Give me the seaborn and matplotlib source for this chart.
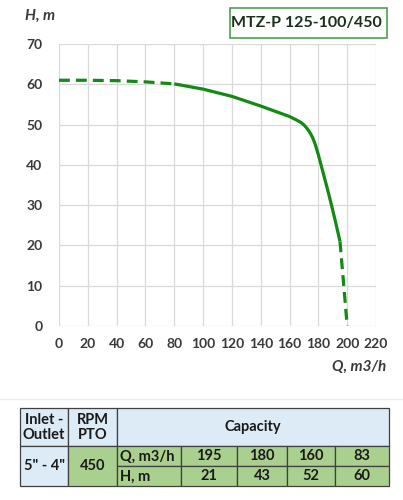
import numpy as np
import pandas as pd
import matplotlib.pyplot as plt
import seaborn as sns
from matplotlib.patches import Rectangle

# ==========================================
# Data
# ==========================================
title = "MTZ-P 125-100/450"

# Pump curve H(Q): dashed start, solid working range, dashed end
q_start = [0, 20, 40, 60, 80]
h_start = [61.0, 61.0, 60.9, 60.6, 60.1]
q_main = [80, 100, 120, 140, 150, 160, 165, 168, 170, 172, 174, 176, 178,
          180, 182, 184, 186, 188, 190, 192, 194, 195]
h_main = [60.1, 58.8, 57.0, 54.6, 53.3, 52.0, 51.1, 50.5, 49.9, 49.1, 48.1,
          46.8, 44.9, 42.5, 39.8, 37.1, 34.4, 31.6, 28.7, 25.7, 22.6, 21.0]
q_end = [195, 197.3, 200]
h_end = [21.0, 11.4, 0.0]

x_ticks = list(range(0, 221, 20))
y_ticks = list(range(0, 71, 10))

# Table contents
inlet_outlet = '5" - 4"'
rpm_pto = "450"
cap_q = [195, 180, 160, 83]
cap_h = [21, 43, 52, 60]

# ==========================================
# Styling
# ==========================================
sns.set_theme(style="whitegrid")
plt.rcParams['font.family'] = ['Lato', 'DejaVu Sans']

W, H = 403, 500
fig = plt.figure(figsize=(W / 100, H / 100), dpi=100)

green = '#138a13'
text_col = '#3a3a3a'

# main plot axes (pixel box: x 59..376, y 44..326)
ax = fig.add_axes([59 / W, 1 - 326 / H, 317 / W, 282 / H])

seg_df = pd.DataFrame({'Q': q_main, 'H': h_main})
sns.lineplot(data=seg_df, x='Q', y='H', ax=ax, color=green, lw=2.3, sort=False,
             solid_capstyle='butt', solid_joinstyle='round')
for qs, hs in [(q_start, h_start), (q_end, h_end)]:
    d = pd.DataFrame({'Q': qs, 'H': hs})
    sns.lineplot(data=d, x='Q', y='H', ax=ax, color=green, lw=2.3, sort=False,
                 dashes=False, linestyle=(0, (3.4, 1.9)), dash_capstyle='butt')

ax.set_xlim(0, 220)
ax.set_ylim(0, 70)
ax.set_xticks(x_ticks)
ax.set_yticks(y_ticks)
ax.set_xlabel('')
ax.set_ylabel('')
ax.grid(True, color='#d9d9d9', lw=0.9)
for s in ax.spines.values():
    s.set_visible(False)
ax.tick_params(axis='both', length=0, labelsize=10, colors=text_col, pad=9)
for lab in ax.get_xticklabels() + ax.get_yticklabels():
    lab.set_fontweight('bold')
ax.tick_params(axis='y', pad=12)

# axis titles
fig.text(25 / W, 1 - 16 / H, 'H, m', ha='left', va='center', fontsize=11,
         fontweight='bold', fontstyle='italic', color=text_col)
fig.text(386 / W, 1 - 367 / H, 'Q, m3/h', ha='right', va='center', fontsize=11,
         fontweight='bold', fontstyle='italic', color=text_col)

# title box
fig.patches.append(Rectangle((230 / W, 1 - 38 / H), 157 / W, 30 / H,
                             transform=fig.transFigure, fill=False,
                             edgecolor='#4f9e4f', lw=1.2))
fig.text(306 / W, 1 - 23 / H, title, ha='center', va='center', fontsize=11.5,
         fontweight='bold', color='#1c2e1c')

# ==========================================
# Table (drawn in pixel coordinates)
# ==========================================
tax = fig.add_axes([0, 0, 1, 1])
tax.set_xlim(0, W)
tax.set_ylim(H, 0)
tax.axis('off')

blue = '#ddebf7'
lgreen = '#a9d08e'
edge = '#404040'

tax.plot([0, W], [399, 399], color='#ececec', lw=1)

cols = [20, 68, 117, 181, 237, 287, 335, 389]
rows = [408, 446, 466, 486]


def cell(x0, x1, y0, y1, color, text='', ha='center'):
    tax.add_patch(Rectangle((x0, y0), x1 - x0, y1 - y0, facecolor=color,
                            edgecolor=edge, lw=0.9))
    if text:
        tx = (x0 + x1) / 2 if ha == 'center' else x0 + 3
        tax.text(tx, (y0 + y1) / 2 + 0.5, text, ha=ha, va='center',
                 fontsize=10.5, fontweight='bold', color='#1a1a1a',
                 linespacing=1.15)


cell(cols[0], cols[1], rows[0], rows[1], blue, 'Inlet -\nOutlet')
cell(cols[1], cols[2], rows[0], rows[1], blue, 'RPM\nPTO')
cell(cols[2], cols[7], rows[0], rows[1], blue, 'Capacity')
cell(cols[0], cols[1], rows[1], rows[3], blue, inlet_outlet)
cell(cols[1], cols[2], rows[1], rows[3], lgreen, rpm_pto)
cell(cols[2], cols[3], rows[1], rows[2], lgreen, 'Q, m3/h', ha='left')
cell(cols[2], cols[3], rows[2], rows[3], lgreen, 'H, m', ha='left')
for i, (qv, hv) in enumerate(zip(cap_q, cap_h)):
    cell(cols[3 + i], cols[4 + i], rows[1], rows[2], lgreen, str(qv))
    cell(cols[3 + i], cols[4 + i], rows[2], rows[3], lgreen, str(hv))

fig.savefig('out.png', dpi=100)
plt.close(fig)
